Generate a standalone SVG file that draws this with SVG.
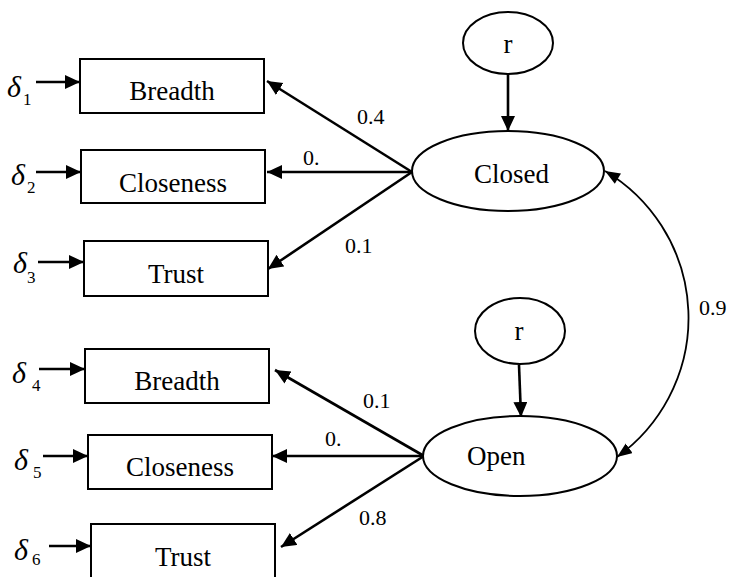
<svg xmlns="http://www.w3.org/2000/svg" width="729" height="577" viewBox="0 0 729 577">
<style>
.box{fill:#fff;stroke:#000;stroke-width:2}
.ell{fill:#fff;stroke:#000;stroke-width:2}
.lbl{font-size:27px}
.num{font-size:22px}
.dl{font-size:30px;font-style:italic}
.sub{font-size:17px}
.arr{stroke:#000;stroke-width:2.6;fill:none;marker-end:url(#ah)}
.cur{stroke:#000;stroke-width:1.8;fill:none;marker-start:url(#ah2s);marker-end:url(#ah2)}
</style>
<defs>
<marker id="ah" markerUnits="userSpaceOnUse" markerWidth="17" markerHeight="15" refX="15" refY="7" orient="auto">
<path d="M0,0 L15,7 L0,14 z" fill="#000"/>
</marker>
<marker id="ah2" markerUnits="userSpaceOnUse" markerWidth="16" markerHeight="13" refX="15" refY="6" orient="auto">
<path d="M0,0 L15,6 L0,12 z" fill="#000"/>
</marker>
<marker id="ah2s" markerUnits="userSpaceOnUse" markerWidth="16" markerHeight="13" refX="0" refY="6" orient="auto">
<path d="M15,0 L0,6 L15,12 z" fill="#000"/>
</marker>
</defs>

<g font-family="Liberation Serif, Times New Roman, serif" fill="#000">
<g id="connectors">
<line class="arr" x1="36" y1="82" x2="80" y2="82"/>
<line class="arr" x1="36" y1="172" x2="81" y2="172"/>
<line class="arr" x1="38" y1="262" x2="84" y2="262"/>
<line class="arr" x1="39" y1="369" x2="85" y2="369"/>
<line class="arr" x1="43" y1="456" x2="88" y2="456"/>
<line class="arr" x1="49" y1="546" x2="91" y2="546"/>
<line class="arr" x1="412" y1="172" x2="267" y2="81"/>
<line class="arr" x1="412" y1="172" x2="267" y2="172"/>
<line class="arr" x1="412" y1="172" x2="268" y2="269"/>
<line class="arr" x1="424" y1="456" x2="275" y2="370"/>
<line class="arr" x1="424" y1="456" x2="272" y2="456"/>
<line class="arr" x1="424" y1="456" x2="281" y2="547"/>
<line class="arr" x1="508" y1="74" x2="508" y2="131"/>
<line class="arr" x1="519" y1="365" x2="521" y2="417"/>
<path class="cur" d="M605,171 A171,171 0 0 1 617,457"/>
<text class="num" x="357" y="124">0.4</text>
<text class="num" x="303" y="165">0.</text>
<text class="num" x="345" y="253">0.1</text>
<text class="num" x="363" y="408">0.1</text>
<text class="num" x="325" y="446">0.</text>
<text class="num" x="359" y="525">0.8</text>
<text class="num" x="699" y="315">0.9</text>
</g>

<g id="d1"><text class="dl" x="7" y="97">δ</text><text class="sub" x="23" y="105">1</text></g>
<g id="d2"><text class="dl" x="11" y="185">δ</text><text class="sub" x="27" y="193">2</text></g>
<g id="d3"><text class="dl" x="13" y="273">δ</text><text class="sub" x="27" y="283">3</text></g>
<g id="d4"><text class="dl" x="12" y="383">δ</text><text class="sub" x="32" y="391">4</text></g>
<g id="d5"><text class="dl" x="14" y="470">δ</text><text class="sub" x="33" y="478">5</text></g>
<g id="d6"><text class="dl" x="14" y="560">δ</text><text class="sub" x="32" y="565">6</text></g>

<g id="breadth1"><rect class="box" x="80" y="59" width="184" height="54"/><text class="lbl" x="172" y="100" text-anchor="middle">Breadth</text></g>
<g id="closeness1"><rect class="box" x="81" y="150" width="184" height="53"/><text class="lbl" x="173" y="192" text-anchor="middle">Closeness</text></g>
<g id="trust1"><rect class="box" x="84" y="241" width="184" height="55"/><text class="lbl" x="176" y="283" text-anchor="middle">Trust</text></g>
<g id="breadth2"><rect class="box" x="85" y="349" width="184" height="54"/><text class="lbl" x="177" y="390" text-anchor="middle">Breadth</text></g>
<g id="closeness2"><rect class="box" x="88" y="435" width="184" height="54"/><text class="lbl" x="180" y="476" text-anchor="middle">Closeness</text></g>
<g id="trust2"><rect class="box" x="91" y="524" width="184" height="70"/><text class="lbl" x="183" y="566" text-anchor="middle">Trust</text></g>

<g id="r1"><ellipse class="ell" cx="508" cy="43" rx="45" ry="31"/><text class="lbl" x="508" y="53" text-anchor="middle">r</text></g>
<g id="closed"><ellipse class="ell" cx="508" cy="171" rx="96" ry="40"/><text class="lbl" x="474" y="183">Closed</text></g>
<g id="r2"><ellipse class="ell" cx="520" cy="331" rx="45" ry="33"/><text class="lbl" x="519" y="340" text-anchor="middle">r</text></g>
<g id="open"><ellipse class="ell" cx="520" cy="456" rx="97" ry="40"/><text class="lbl" x="467" y="465">Open</text></g>
</g>
</svg>
